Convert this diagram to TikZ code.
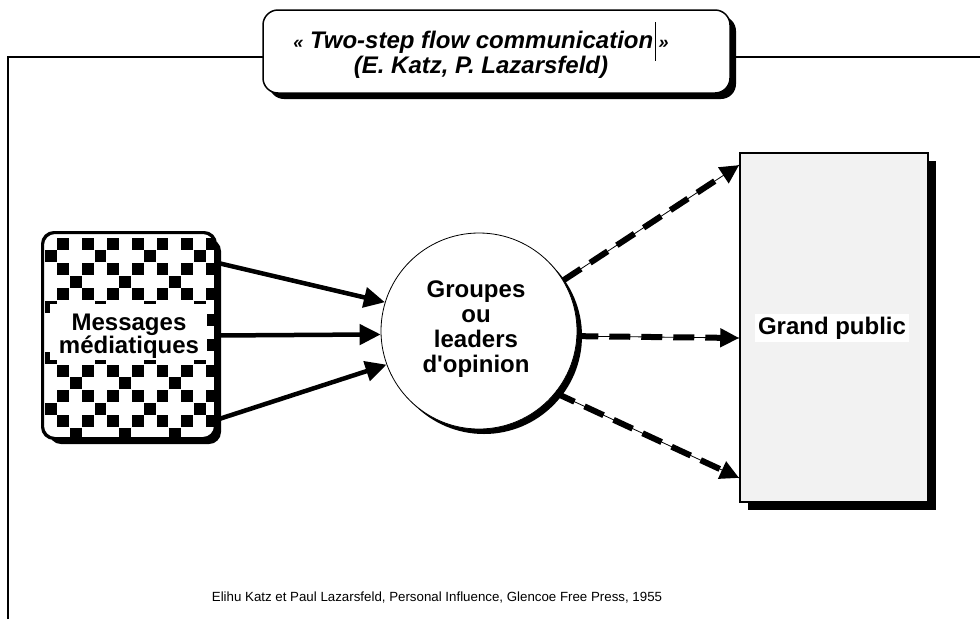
\documentclass[tikz,border=0pt]{standalone}
\usepackage{fontspec}
\setmainfont{Liberation Sans}
\usetikzlibrary{arrows.meta,shadows}
\tikzset{
  shadowed/.style={general shadow={shadow xshift=#1,shadow yshift=-#1,fill=black}},
  titlebox/.style={draw,line width=1.5pt,fill=white,rounded corners=15pt,inner sep=0pt,shadowed=6pt},
  msgbox/.style={draw,line width=2pt,rounded corners=12pt,inner sep=0pt,minimum width=172pt,minimum height=205pt,shadowed=6pt,fill=white},
  grpcircle/.style={circle,draw,line width=0.8pt,fill=white,inner sep=0pt,minimum size=196pt,shadowed=5pt},
  pubbox/.style={draw,line width=1.5pt,fill=black!5,inner sep=0pt,minimum width=188pt,minimum height=349pt,shadowed=8pt},
  bigtxt/.style={font=\fontsize{24}{25}\selectfont\bfseries,align=center},
  solidarrow/.style={line width=4.5pt,-{Triangle[length=21pt,width=20pt]}},
  dasharrow/.style={line width=6pt,dash pattern=on 21pt off 11pt,-{Triangle[length=19pt,width=18pt]},
     preaction={draw,line width=0.8pt,solid,-}},
  frameline/.style={line width=2pt},
}
\begin{document}
\begin{tikzpicture}[x=1pt,y=-1pt]
\useasboundingbox (0,0) rectangle (980,619);
% frame
\coordinate (fbl) at (8,619);
\coordinate (ftl) at (8,57);
\coordinate (ftr) at (980,57);
\draw[frameline] (fbl) -- (ftl) -- (ftr);
% title
\node[titlebox,minimum width=467pt,minimum height=83pt] (title) at (496.5,51.5) {};
\node[font=\fontsize{24}{25}\selectfont\bfseries\itshape,align=center,inner sep=0pt] (titletxt) at (481,55)
  {{\fontsize{18}{18}\selectfont«} Two-step flow communication\hspace{1.5pt}\smash{\rule[-12pt]{0.8pt}{39pt}}\hspace{3pt}{\fontsize{18}{18}\selectfont»}\\(E. Katz, P. Lazarsfeld)};
% messages box
\node[msgbox] (msg) at (129,335.5) {};
\begin{scope}
\clip[rounded corners=12pt] (msg.south west) rectangle (msg.north east);
\foreach \r in {0,...,16}{
  \pgfmathtruncatemacro{\m}{mod(\r,4)}
  \foreach \k in {-1,...,14}{
    \pgfmathtruncatemacro{\km}{mod(\k+4,4)}
    \pgfmathtruncatemacro{\kt}{mod(\k+4,2)}
    \pgfmathtruncatemacro{\show}{(\m==0 || \m==2) ? \kt : ((\m==1) ? (\km==0) : (\km==2))}
    \ifnum\show=1
      \fill (45+12.4*\k,237.5+12.7*\r) rectangle ++(11.8,12);
    \fi
  }
}
\end{scope}
\draw[line width=2pt,rounded corners=12pt] (msg.south west) rectangle (msg.north east);
\fill[white] (50,304) rectangle (207,360);
\node[bigtxt,inner sep=0pt] (msgtxt) at (129,336) {Messages\\[-2pt]médiatiques};
% circle
\node[grpcircle] (grp) at (479,331) {};
\node[bigtxt,inner sep=0pt] (grptxt) at (476,329) {Groupes\\ou\\leaders\\d\textquotesingle opinion};
% public box
\node[pubbox] (pub) at (834,327.5) {};
\node[bigtxt,fill=white,inner sep=3pt] (pubtxt) at (832,328) {Grand public};
% arrows in
\draw[solidarrow] ([yshift=73pt]msg.east) -- (grp.163);
\draw[solidarrow] ([yshift=0pt]msg.east) -- (grp.182);
\draw[solidarrow] ([yshift=-84.5pt]msg.east) -- (grp.200);
% arrows out
\draw[dasharrow] (grp.31) -- ([yshift=162.5pt]pub.west);
\draw[dasharrow] (grp.-3) -- ([yshift=-10.5pt]pub.west);
\draw[dasharrow] (grp.-39) -- ([yshift=-150.5pt]pub.west);
% footer
\node[font=\fontsize{13.3}{14}\selectfont,inner sep=0pt] (foot) at (437,598) {Elihu Katz et Paul Lazarsfeld, Personal Influence, Glencoe Free Press, 1955};
\end{tikzpicture}
\end{document}
